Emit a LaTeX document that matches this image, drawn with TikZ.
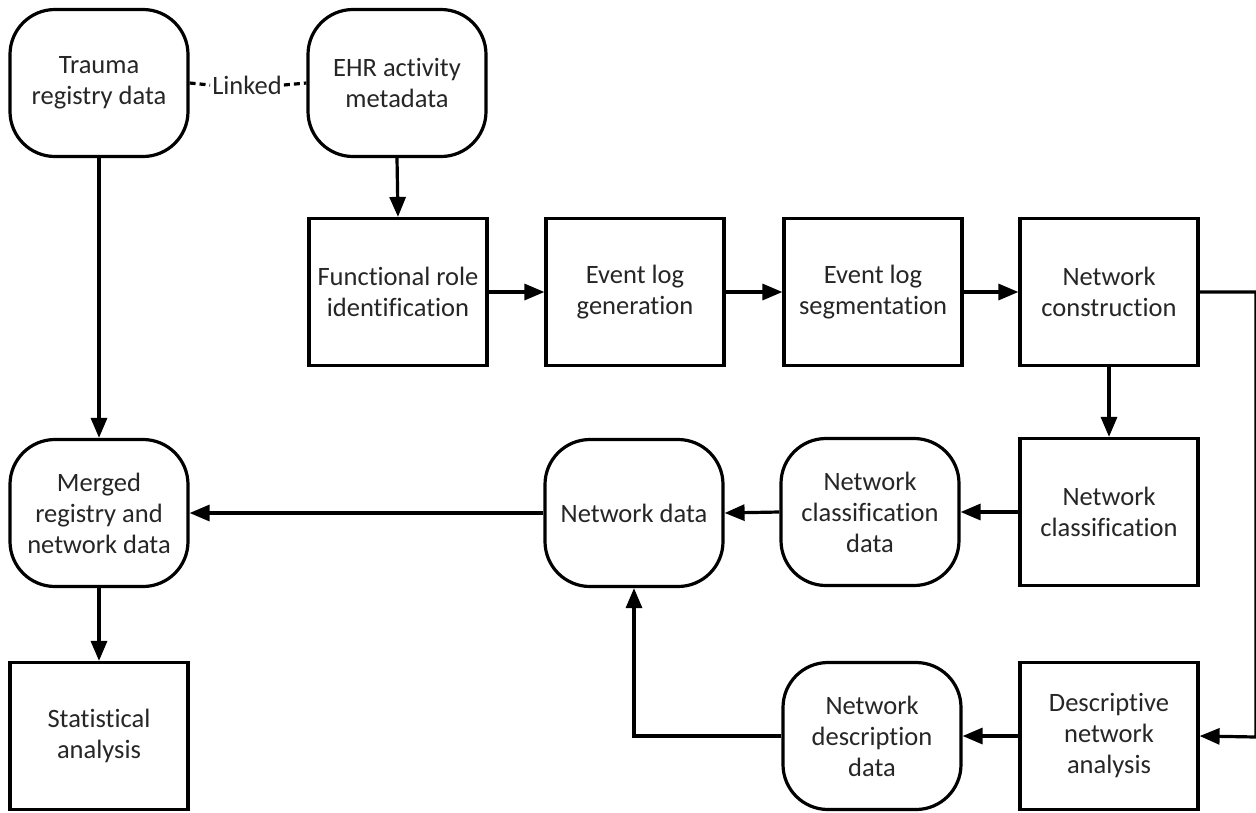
\documentclass[tikz,border=0pt]{standalone}
\usepackage{fontspec}
\setmainfont{Carlito}[Ligatures={NoCommon}]
\usetikzlibrary{arrows.meta}
\begin{document}
\begin{tikzpicture}[x=1pt,y=-1pt,
  base/.style={draw=black,line width=3.2pt,fill=white,align=center,
    font=\fontsize{26.5pt}{31pt}\selectfont,text=black!85,inner sep=0pt},
  proc/.style={base,minimum width=178pt,minimum height=147pt},
  data/.style={base,rounded corners=45pt,minimum width=178pt,minimum height=147pt},
  arr/.style={line width=3.2pt,-{Triangle[length=20pt,width=16pt]}},
  lnk/.style={line width=3.2pt,dash pattern=on 6pt off 4pt}]
\useasboundingbox (0,0) rectangle (1256,812);
\node[data] (trauma) at (99,83) {Trauma\\registry data};
\node[data] (ehr) at (397,83) {EHR activity\\metadata};
\node[font=\fontsize{26.5pt}{31pt}\selectfont,text=black!85,inner sep=2pt] (linked) at (247,85) {Linked};
\node[proc] (func) at (398,292) {Functional role\\identification};
\node[proc] (evgen) at (635,292) {Event log\\generation};
\node[proc] (evseg) at (873,292) {Event log\\segmentation};
\node[proc] (netc) at (1109,292) {Network\\construction};
\node[proc] (netcl) at (1109,512) {Network\\classification};
\node[data] (netcld) at (870,512) {Network\\classification\\data};
\node[data] (netd) at (634,513) {Network data};
\node[data] (merged) at (99,513) {Merged\\registry and\\network data};
\node[proc] (stat) at (99,736) {Statistical\\analysis};
\node[proc] (desc) at (1109,736) {Descriptive\\network\\analysis};
\node[data] (netdd) at (872,736) {Network\\description\\data};
\coordinate (rt1) at (1256,292);
\coordinate (rt2) at (1256,737);
\draw[lnk] (trauma.east) -- (linked.west);
\draw[lnk] (linked.east) -- (ehr.west);
\draw[arr] (trauma.south) -- (merged.north);
\draw[arr] (ehr.south) -- (func.north);
\draw[arr] (func.east) -- (evgen.west);
\draw[arr] (evgen.east) -- (evseg.west);
\draw[arr] (evseg.east) -- (netc.west);
\draw[arr] (netc.south) -- (netcl.north);
\draw[arr] (netcl.west) -- (netcld.east);
\draw[arr] (netcld.west) -- (netd.east);
\draw[arr] (netd.west) -- (merged.east);
\draw[arr] (merged.south) -- (stat.north);
\draw[arr] (netc.east) -- (rt1) -- (rt2) -- (desc.east);
\draw[arr] (desc.west) -- (netdd.east);
\draw[arr] (netdd.west) -| (netd.south);
\end{tikzpicture}
\end{document}
